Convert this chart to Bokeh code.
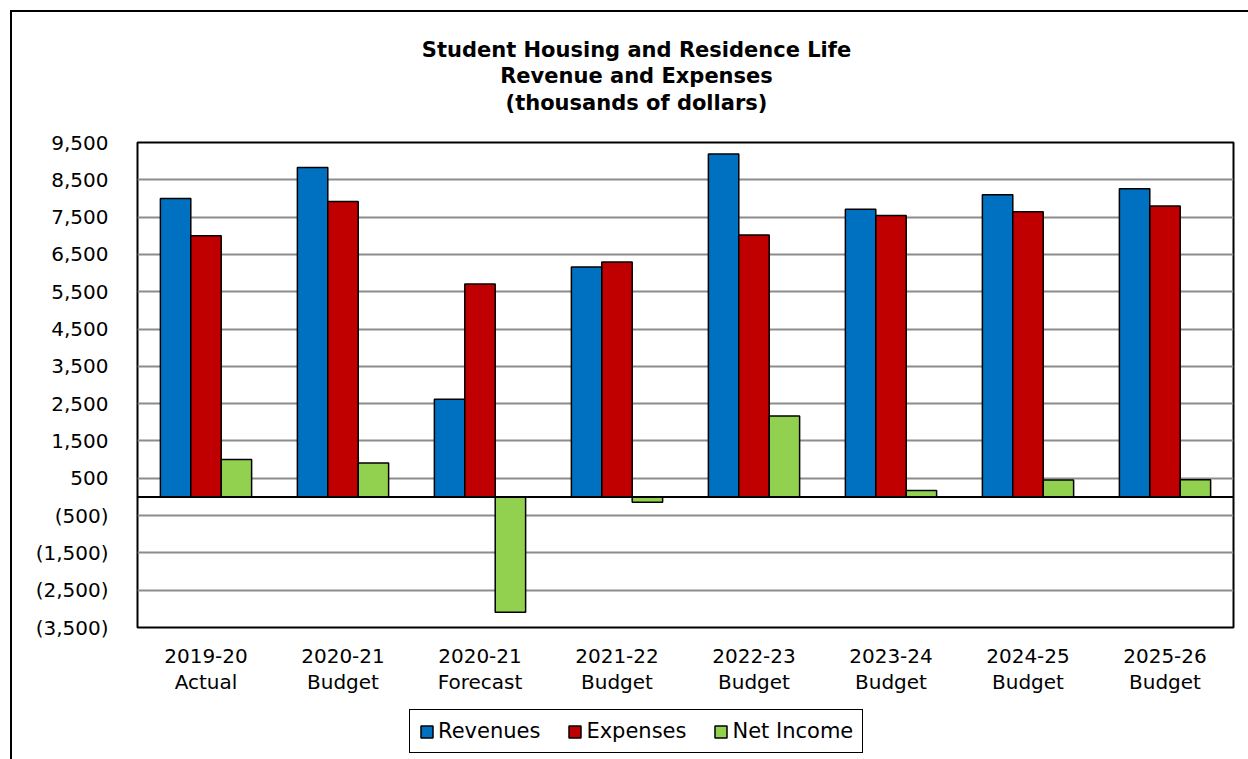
from bokeh.plotting import figure
from bokeh.layouts import column
from bokeh.models import (ColumnDataSource, FactorRange, FixedTicker, Span, Legend,
                          LegendItem, Label)
from bokeh.transform import dodge
from bokeh.embed import file_html
from bokeh.resources import INLINE

categories = ["2019-20\nActual", "2020-21\nBudget", "2020-21\nForecast", "2021-22\nBudget",
              "2022-23\nBudget", "2023-24\nBudget", "2024-25\nBudget", "2025-26\nBudget"]
revenues = [8000, 8830, 2620, 6160, 9190, 7710, 8100, 8260]
expenses = [7000, 7920, 5710, 6300, 7020, 7540, 7645, 7800]
net_income = [1000, 910, -3090, -140, 2170, 170, 455, 460]
series_names = ["Revenues", "Expenses", "Net Income"]
y_ticks = [9500, 8500, 7500, 6500, 5500, 4500, 3500, 2500, 1500, 500,
           -500, -1500, -2500, -3500]
y_tick_labels = ["9,500", "8,500", "7,500", "6,500", "5,500", "4,500", "3,500", "2,500",
                 "1,500", "500", "(500)", "(1,500)", "(2,500)", "(3,500)"]
title_lines = ["Student Housing and Residence Life", "Revenue and Expenses",
               "(thousands of dollars)"]

FONT = "DejaVu Sans"
colors = ["#0070C0", "#C00000", "#92D050"]

src = ColumnDataSource(dict(cat=categories, rev=revenues, exp=expenses, net=net_income))

p = figure(x_range=FactorRange(factors=categories), y_range=(-3500, 9500),
           frame_width=1096, frame_height=485,
           min_border_left=137, min_border_right=15, min_border_top=142, min_border_bottom=73,
           output_backend="svg", toolbar_location=None,
           background_fill_color="white", border_fill_color="white", border_fill_alpha=0)
p.x_range.range_padding = 0
p.styles = {
    "background": "linear-gradient(#000,#000) 10px 10px / 2px 100% no-repeat, "
                  "linear-gradient(#000,#000) 10px 10px / 100% 2px no-repeat, #fff"
}

bw = 0.222
r1 = p.vbar(x=dodge("cat", -bw, range=p.x_range), top="rev", bottom=0, width=bw, source=src,
            fill_color=colors[0], line_color="black", line_width=1.5)
r2 = p.vbar(x=dodge("cat", 0, range=p.x_range), top="exp", bottom=0, width=bw, source=src,
            fill_color=colors[1], line_color="black", line_width=1.5)
r3 = p.vbar(x=dodge("cat", bw, range=p.x_range), top="net", bottom=0, width=bw, source=src,
            fill_color=colors[2], line_color="black", line_width=1.5)

p.add_layout(Span(location=0, dimension="width", line_color="black", line_width=2))

p.outline_line_color = "black"
p.outline_line_width = 2

p.xgrid.grid_line_color = None
p.yaxis.ticker = FixedTicker(ticks=y_ticks)
p.ygrid.ticker = FixedTicker(ticks=y_ticks)
p.ygrid.grid_line_color = "#8c8c8c"
p.ygrid.grid_line_width = 2

p.yaxis.major_label_overrides = {t: l for t, l in zip(y_ticks, y_tick_labels)}
for ax in (p.xaxis, p.yaxis):
    ax.axis_line_color = None
    ax.major_tick_line_color = None
    ax.minor_tick_line_color = None
    ax.major_tick_out = 0
    ax.major_tick_in = 0
    ax.minor_tick_out = 0
    ax.minor_tick_in = 0
    ax.major_label_text_font = FONT
    ax.major_label_text_font_size = "20px"
    ax.major_label_text_color = "black"
p.yaxis.major_label_standoff = 29
p.xaxis.major_label_standoff = 16
p.xaxis.major_label_text_line_height = 1.1

baselines = [49, 75.5, 102]
for txt, yb in zip(title_lines, baselines):
    p.add_layout(Label(x=636, y=yb, x_units="canvas", y_units="canvas", text=txt,
                       text_font=FONT, text_font_size="21px", text_font_style="bold",
                       text_align="center", text_baseline="alphabetic", text_color="black"),
                 "above")

# legend strip below the chart
pl = figure(width=1248, height=59, x_range=(0, 1), y_range=(0, 1),
            x_axis_type=None, y_axis_type=None, output_backend="svg", toolbar_location=None,
            min_border=0, min_border_left=0, min_border_right=0,
            min_border_top=0, min_border_bottom=0,
            background_fill_alpha=0, border_fill_alpha=0)
pl.outline_line_color = None
pl.xgrid.visible = False
pl.ygrid.visible = False
pl.styles = {"background": "linear-gradient(#000,#000) 10px 0px / 2px 100% no-repeat, #fff"}
proxy = ColumnDataSource(dict(x=[float("nan")], top=[float("nan")]))
proxies = [pl.vbar(x="x", top="top", width=0.1, source=proxy, fill_color=c,
                   line_color="black", line_width=1.5) for c in colors]

legend = Legend(items=[LegendItem(label=n, renderers=[r]) for n, r in zip(series_names, proxies)],
                orientation="horizontal", location=(272, 6),
                label_text_font=FONT, label_text_font_size="21px", label_text_color="black",
                glyph_width=15, glyph_height=15, label_standoff=4, spacing=27,
                padding=9, margin=0,
                border_line_color="black", border_line_width=1.5, border_line_alpha=1,
                background_fill_color="white", background_fill_alpha=1)
pl.add_layout(legend, "center")

layout = column(p, pl, spacing=0)
open("out.html", "w").write(file_html(layout, INLINE))
